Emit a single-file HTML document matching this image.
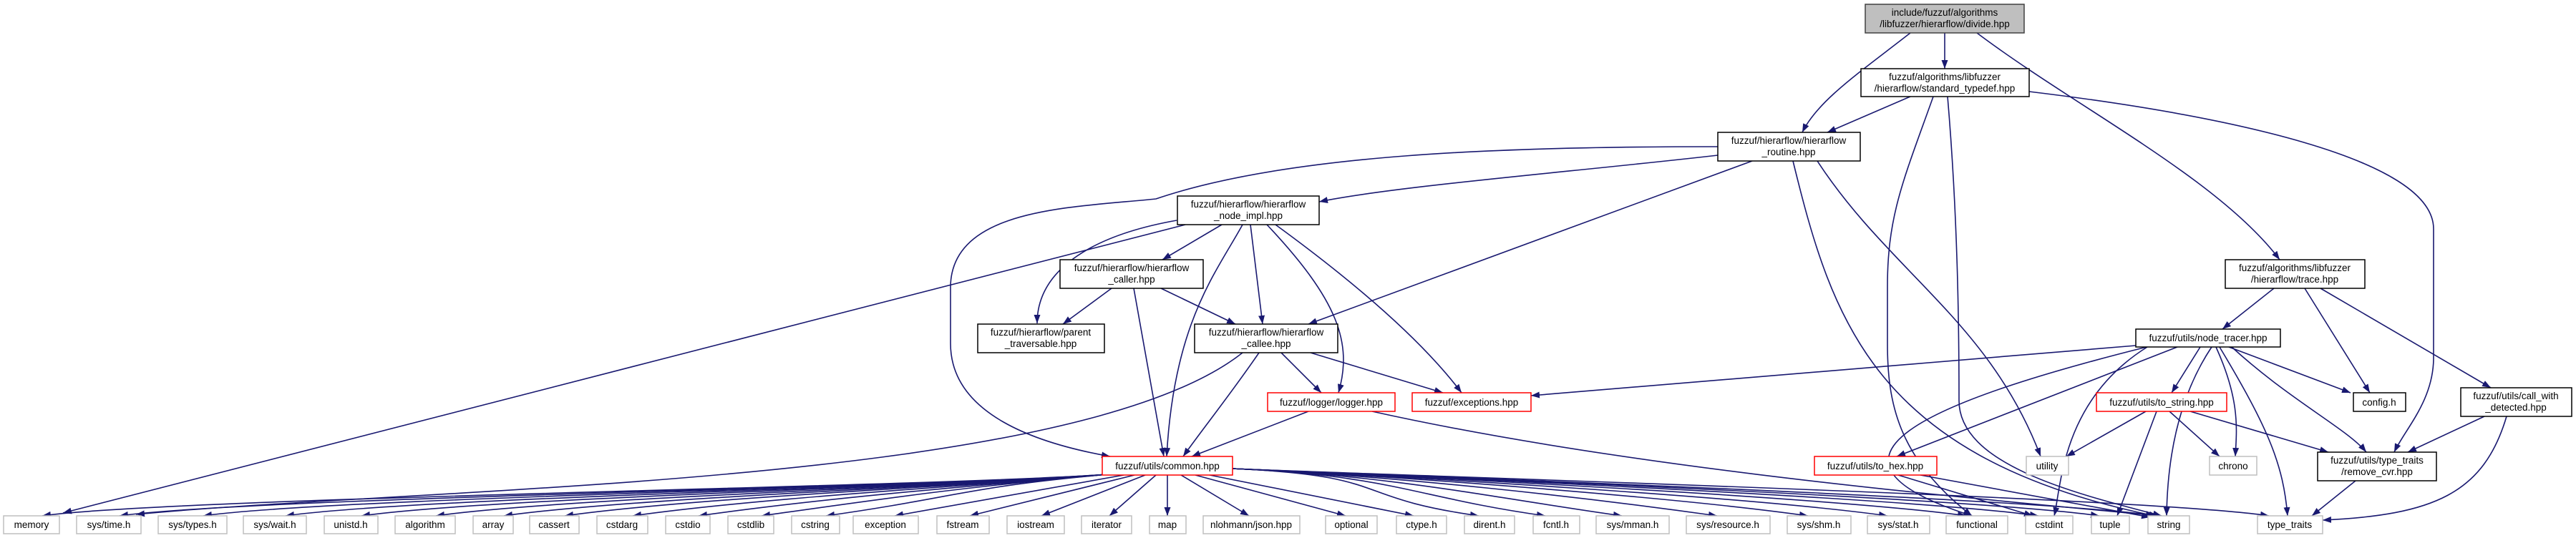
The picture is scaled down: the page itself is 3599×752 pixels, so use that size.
<!DOCTYPE html>
<html><head><meta charset="utf-8">
<style>
html,body{margin:0;padding:0;background:#fff;}
svg{display:block;}
text{font-family:"Liberation Sans","DejaVu Sans",sans-serif;font-size:13.5px;fill:#000;text-anchor:middle;}
.e{fill:none;stroke:#191970;stroke-width:1.6;marker-end:url(#a);}
.n{fill:#fff;stroke:#000;stroke-width:1.5;}
.r{fill:#fff;stroke:#ff0000;stroke-width:1.5;}
.g{fill:#fff;stroke:#bfbfbf;stroke-width:1.5;}
</style></head><body>
<svg width="3599" height="752" viewBox="0 0 3599 752" xmlns="http://www.w3.org/2000/svg">
<defs><marker id="a" markerUnits="userSpaceOnUse" markerWidth="12" markerHeight="9" refX="12" refY="4.5" orient="auto"><path d="M0,0 L12,4.5 L0,9 z" fill="#191970"/></marker></defs>
<rect width="3599" height="752" fill="#fff"/>
<!-- edges -->
<g>
<path class="e" d="M1560,662 C1350,680 244,695 59,721"/>
<path class="e" d="M1560,662 C1350,680 352,695 167,721"/>
<path class="e" d="M1560,662 C1350,680 469,695 284,721"/>
<path class="e" d="M1560,662 C1350,680 584,695 399,721"/>
<path class="e" d="M1560,662 C1350,680 690,695 505,721"/>
<path class="e" d="M1560,662 C1350,680 794,695 609,721"/>
<path class="e" d="M1560,662 C1350,680 889,695 704,721"/>
<path class="e" d="M1560,662 C1350,680 974,695 789,721"/>
<path class="e" d="M1560,662 C1350,680 1069,695 884,721"/>
<path class="e" d="M1560,662 C1350,680 1161,695 976,721"/>
<path class="e" d="M1560,662 C1350,680 1249,695 1064,721"/>
<path class="e" d="M1560,662 C1350,680 1339,695 1154,721"/>
<path class="e" d="M1570,664 L1250,721"/>
<path class="e" d="M1585,664 L1355,721"/>
<path class="e" d="M1600,664 L1455,721"/>
<path class="e" d="M1615,664 L1550,721"/>
<path class="e" d="M1631,664 L1631,721"/>
<path class="e" d="M1650,664 L1745,721"/>
<path class="e" d="M1670,664 L1880,721"/>
<path class="e" d="M1690,664 L1975,721"/>
<path class="e" d="M1722,655 C1950,665 1881,695 2066,721"/>
<path class="e" d="M1722,655 C1950,665 1974,695 2159,721"/>
<path class="e" d="M1722,655 C1950,665 2081,695 2266,721"/>
<path class="e" d="M1722,655 C1950,665 2214,695 2399,721"/>
<path class="e" d="M1722,655 C1950,665 2341,695 2526,721"/>
<path class="e" d="M1722,655 C1950,665 2452,695 2637,721"/>
<path class="e" d="M1722,655 C1950,665 2562,695 2747,721"/>
<path class="e" d="M1722,655 C1950,665 2663,695 2848,721"/>
<path class="e" d="M1722,655 C1950,665 2748,695 2933,721"/>
<path class="e" d="M1722,655 C1950,665 2830,695 3015,721"/>
<path class="e" d="M1722,655 C1950,665 2999,695 3170,721"/>

<path class="e" d="M2669,46 C2600,100 2540,140 2518,185"/>
<path class="e" d="M2717,46 L2717,96"/>
<path class="e" d="M2762,46 C2900,150 3100,250 3185,363"/>
<path class="e" d="M2669,135 L2553,185"/>
<path class="e" d="M2835,128 C3100,160 3400,220 3400,320 L3400,500 C3400,560 3360,600 3345,632"/>
<path class="e" d="M2701,135 C2660,250 2637,300 2637,400 L2637,480 C2637,560 2650,640 2755,721"/>
<path class="e" d="M2721,135 C2735,300 2737,450 2737,560 C2737,650 2900,690 3020,721"/>
<path class="e" d="M2400,217 C2200,240 1950,260 1843,282"/>
<path class="e" d="M2400,205 C2100,205 1800,215 1615,278 C1500,290 1330,290 1328,400 L1328,480 C1328,580 1450,620 1551,638"/>
<path class="e" d="M2448,225 L1828,453"/>
<path class="e" d="M2505,225 C2560,450 2620,640 3010,721"/>
<path class="e" d="M2539,225 C2640,380 2780,450 2851,638"/>
<path class="e" d="M1656,314 L88,717"/>
<path class="e" d="M1644,308 C1520,330 1449,380 1449,452"/>
<path class="e" d="M1707,314 L1624,363"/>
<path class="e" d="M1747,314 L1764,453"/>
<path class="e" d="M1736,314 C1700,380 1640,450 1630,638"/>
<path class="e" d="M1770,314 C1870,420 1890,480 1870,549"/>
<path class="e" d="M1782,314 C1900,400 1990,480 2042,549"/>
<path class="e" d="M1553,403 L1485,453"/>
<path class="e" d="M1622,403 L1726,453"/>
<path class="e" d="M1584,403 L1626,638"/>
<path class="e" d="M1759,493 C1720,550 1680,600 1653,638"/>
<path class="e" d="M1790,493 L1846,549"/>
<path class="e" d="M1831,493 L2016,549"/>
<path class="e" d="M1736,493 C1500,680 600,680 190,719"/>
<path class="e" d="M1828,575 L1665,638"/>
<path class="e" d="M1917,575 C2300,660 2800,700 3015,721"/>
<path class="e" d="M3177,403 L3105,460"/>
<path class="e" d="M3220,403 L3311,549"/>
<path class="e" d="M3242,403 L3480,542"/>
<path class="e" d="M2984,483 L2139,553"/>
<path class="e" d="M2999,485 C2700,560 2500,640 2755,721"/>
<path class="e" d="M3042,485 L2650,638"/>
<path class="e" d="M3000,485 C2880,560 2880,680 2870,721"/>
<path class="e" d="M3074,485 L3034,549"/>
<path class="e" d="M3096,485 C3130,560 3125,600 3123,638"/>
<path class="e" d="M3101,485 C3170,600 3190,650 3196,721"/>
<path class="e" d="M3118,485 C3200,560 3280,600 3306,632"/>
<path class="e" d="M3114,485 L3284,549"/>
<path class="e" d="M3090,485 C3040,560 3028,650 3027,721"/>
<path class="e" d="M2998,575 L2887,638"/>
<path class="e" d="M3013,575 L2958,721"/>
<path class="e" d="M3031,575 L3101,638"/>
<path class="e" d="M3060,575 L3253,632"/>
<path class="e" d="M2652,664 L2840,721"/>
<path class="e" d="M2683,664 L3004,723"/>
<path class="e" d="M3471,582 L3364,632"/>
<path class="e" d="M3502,582 C3470,690 3400,720 3245,727"/>
<path class="e" d="M3291,672 L3230,721"/>
</g>
<!-- nodes -->
<g>
<rect x="2606" y="6" width="222" height="40" fill="#bfbfbf" stroke="#404040" stroke-width="1.5"/>
<text x="2717" y="22">include/fuzzuf/algorithms</text><text x="2717" y="38">/libfuzzer/hierarflow/divide.hpp</text>
<rect class="n" x="2600" y="96" width="235" height="39"/>
<text x="2717" y="112">fuzzuf/algorithms/libfuzzer</text><text x="2717" y="128">/hierarflow/standard_typedef.hpp</text>
<rect class="n" x="2400" y="185" width="199" height="40"/>
<text x="2499" y="201">fuzzuf/hierarflow/hierarflow</text><text x="2499" y="217">_routine.hpp</text>
<rect class="n" x="1645" y="274" width="198" height="40"/>
<text x="1744" y="290">fuzzuf/hierarflow/hierarflow</text><text x="1744" y="306">_node_impl.hpp</text>
<rect class="n" x="1481" y="363" width="200" height="40"/>
<text x="1581" y="379">fuzzuf/hierarflow/hierarflow</text><text x="1581" y="395">_caller.hpp</text>
<rect class="n" x="1366" y="453" width="177" height="40"/>
<text x="1454" y="469">fuzzuf/hierarflow/parent</text><text x="1454" y="485">_traversable.hpp</text>
<rect class="n" x="1669" y="453" width="200" height="40"/>
<text x="1769" y="469">fuzzuf/hierarflow/hierarflow</text><text x="1769" y="485">_callee.hpp</text>
<rect class="r" x="1771" y="549" width="178" height="26"/>
<text x="1860" y="567">fuzzuf/logger/logger.hpp</text>
<rect class="r" x="1973" y="549" width="166" height="26"/>
<text x="2056" y="567">fuzzuf/exceptions.hpp</text>
<rect class="n" x="3109" y="363" width="195" height="40"/>
<text x="3206" y="379">fuzzuf/algorithms/libfuzzer</text><text x="3206" y="395">/hierarflow/trace.hpp</text>
<rect class="n" x="2984" y="460" width="202" height="25"/>
<text x="3085" y="477">fuzzuf/utils/node_tracer.hpp</text>
<rect class="r" x="2929" y="549" width="182" height="26"/>
<text x="3020" y="567">fuzzuf/utils/to_string.hpp</text>
<rect class="n" x="3288" y="549" width="73" height="26"/>
<text x="3324" y="567">config.h</text>
<rect class="n" x="3438" y="542" width="155" height="40"/>
<text x="3515" y="558">fuzzuf/utils/call_with</text><text x="3515" y="574">_detected.hpp</text>
<rect class="r" x="1540" y="638" width="182" height="26"/>
<text x="1631" y="656">fuzzuf/utils/common.hpp</text>
<rect class="r" x="2535" y="638" width="171" height="26"/>
<text x="2620" y="656">fuzzuf/utils/to_hex.hpp</text>
<rect class="g" x="2831" y="638" width="59" height="26"/>
<text x="2860" y="656">utility</text>
<rect class="g" x="3087" y="638" width="66" height="26"/>
<text x="3120" y="656">chrono</text>
<rect class="n" x="3238" y="632" width="166" height="40"/>
<text x="3321" y="648">fuzzuf/utils/type_traits</text><text x="3321" y="664">/remove_cvr.hpp</text>
</g>
<g>
<rect class="g" x="5" y="721" width="78" height="25"/><text x="44" y="738">memory</text>
<rect class="g" x="107" y="721" width="90" height="25"/><text x="152" y="738">sys/time.h</text>
<rect class="g" x="221" y="721" width="96" height="25"/><text x="269" y="738">sys/types.h</text>
<rect class="g" x="340" y="721" width="88" height="25"/><text x="384" y="738">sys/wait.h</text>
<rect class="g" x="453" y="721" width="75" height="25"/><text x="490" y="738">unistd.h</text>
<rect class="g" x="552" y="721" width="84" height="25"/><text x="594" y="738">algorithm</text>
<rect class="g" x="661" y="721" width="56" height="25"/><text x="689" y="738">array</text>
<rect class="g" x="740" y="721" width="69" height="25"/><text x="774" y="738">cassert</text>
<rect class="g" x="834" y="721" width="71" height="25"/><text x="869" y="738">cstdarg</text>
<rect class="g" x="930" y="721" width="62" height="25"/><text x="961" y="738">cstdio</text>
<rect class="g" x="1017" y="721" width="64" height="25"/><text x="1049" y="738">cstdlib</text>
<rect class="g" x="1106" y="721" width="67" height="25"/><text x="1139" y="738">cstring</text>
<rect class="g" x="1192" y="721" width="91" height="25"/><text x="1237" y="738">exception</text>
<rect class="g" x="1309" y="721" width="73" height="25"/><text x="1345" y="738">fstream</text>
<rect class="g" x="1407" y="721" width="80" height="25"/><text x="1447" y="738">iostream</text>
<rect class="g" x="1511" y="721" width="70" height="25"/><text x="1546" y="738">iterator</text>
<rect class="g" x="1606" y="721" width="51" height="25"/><text x="1631" y="738">map</text>
<rect class="g" x="1681" y="721" width="135" height="25"/><text x="1748" y="738">nlohmann/json.hpp</text>
<rect class="g" x="1852" y="721" width="72" height="25"/><text x="1888" y="738">optional</text>
<rect class="g" x="1951" y="721" width="70" height="25"/><text x="1986" y="738">ctype.h</text>
<rect class="g" x="2046" y="721" width="70" height="25"/><text x="2081" y="738">dirent.h</text>
<rect class="g" x="2142" y="721" width="65" height="25"/><text x="2174" y="738">fcntl.h</text>
<rect class="g" x="2230" y="721" width="102" height="25"/><text x="2281" y="738">sys/mman.h</text>
<rect class="g" x="2356" y="721" width="117" height="25"/><text x="2414" y="738">sys/resource.h</text>
<rect class="g" x="2497" y="721" width="89" height="25"/><text x="2541" y="738">sys/shm.h</text>
<rect class="g" x="2609" y="721" width="87" height="25"/><text x="2652" y="738">sys/stat.h</text>
<rect class="g" x="2719" y="721" width="86" height="25"/><text x="2762" y="738">functional</text>
<rect class="g" x="2830" y="721" width="66" height="25"/><text x="2863" y="738">cstdint</text>
<rect class="g" x="2922" y="721" width="53" height="25"/><text x="2948" y="738">tuple</text>
<rect class="g" x="3001" y="721" width="58" height="25"/><text x="3030" y="738">string</text>
<rect class="g" x="3154" y="721" width="91" height="25"/><text x="3199" y="738">type_traits</text>
</g>
</svg>
</body></html>
